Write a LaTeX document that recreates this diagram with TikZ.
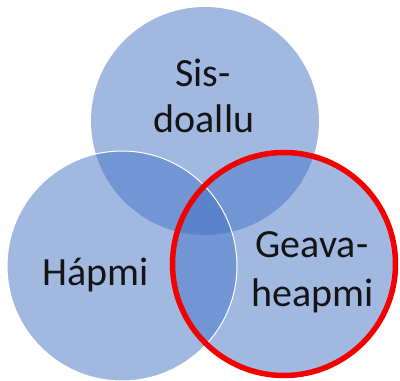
\documentclass[tikz,border=0pt]{standalone}
\usepackage{fontspec}
\setmainfont{Carlito}
\begin{document}
\begin{tikzpicture}[x=1pt,y=1pt,
  venn/.style={fill={rgb,255:red,68;green,114;blue,196}, fill opacity=0.5},
  vennline/.style={draw=white, line width=1pt},
  redring/.style={draw={rgb,255:red,245;green,0;blue,0}, line width=5.5pt},
  lbl/.style={font=\fontsize{40}{46}\selectfont, text={rgb,255:red,20;green,20;blue,20}, anchor=base, inner sep=0pt}]
\useasboundingbox (0,0) rectangle (400,381);
\coordinate (ctop) at (205,260);
\coordinate (cleft) at (122,115);
\coordinate (cright) at (284,117);
\fill[venn] (ctop) circle (114);
\fill[venn] (cright) circle (113);
\fill[venn] (cleft) circle (115);
\draw[vennline] (cleft) circle (115);
\draw[redring] (cright) circle (111.5);
\node[lbl] (sis) at (203,294) {Sis-};
\node[lbl] (doallu) at (204,248) {doallu};
\node[lbl] (hapmi) at (96,95) {Hápmi};
\node[lbl] (geava) at (312,123) {Geava-};
\node[lbl] (heapmi) at (313,74) {heapmi};
\end{tikzpicture}
\end{document}
